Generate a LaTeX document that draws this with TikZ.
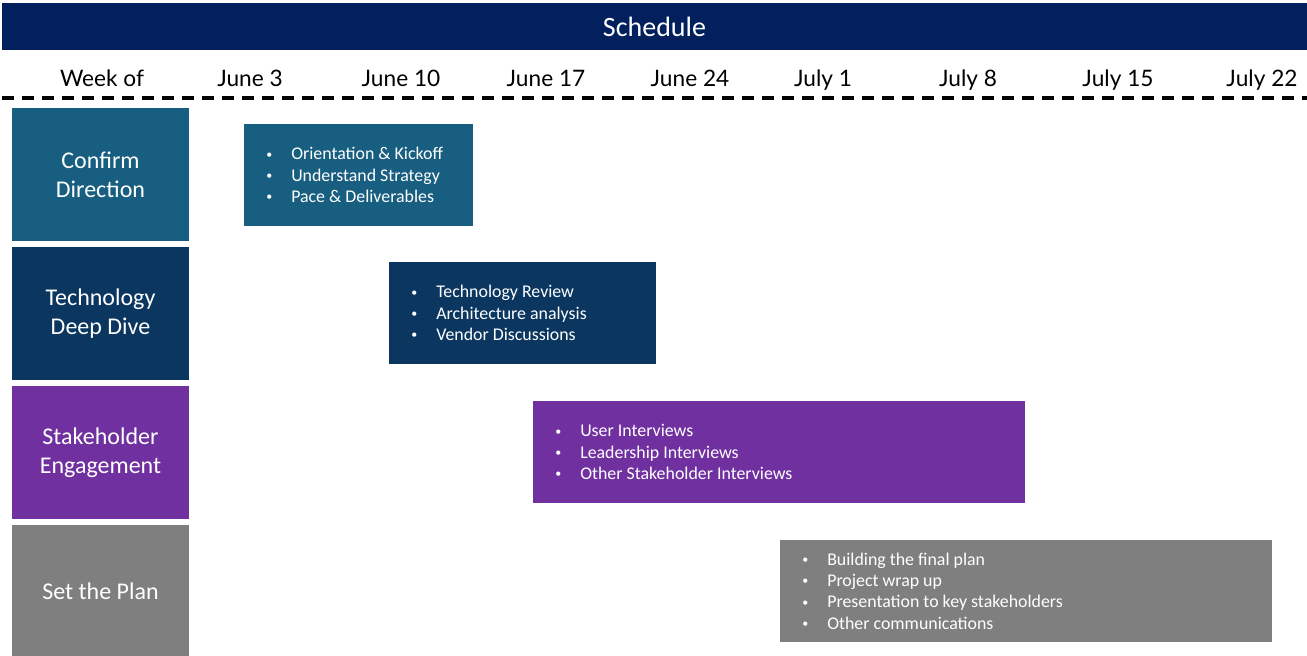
\documentclass[tikz,border=0pt]{standalone}
\usepackage{fontspec}
\setmainfont{Carlito}
\newfontfamily\weekfont{Lato}
\usetikzlibrary{positioning}

\definecolor{headnavy}{RGB}{2,32,94}
\definecolor{phaseteal}{RGB}{24,94,128}
\definecolor{phasenavy}{RGB}{10,54,96}
\definecolor{phasepurple}{RGB}{112,48,160}
\definecolor{phasegray}{RGB}{127,127,127}

% one bullet line inside a task box
\newcommand{\itm}[1]{\makebox[18.75pt][l]{\raisebox{1.2pt}{\fontsize{9}{9}\selectfont\textbullet}}#1}

\begin{document}
\begin{tikzpicture}[
    x=0.75pt, y=-0.75pt,
    node distance=4.5pt,
    lane/.style={rectangle, inner sep=0pt, outer sep=0pt, text=white,
                 minimum width=132.75pt, minimum height=99.75pt, align=center,
                 font=\fontsize{18}{21.75}\selectfont},
    task/.style={rectangle, inner sep=0pt, outer sep=0pt,
                 minimum height=76.5pt},
    items/.style={anchor=west, inner sep=0pt, text=white, align=left,
                  font=\fontsize{13.4}{16}\selectfont},
    week/.style={anchor=base, inner sep=0pt, font=\weekfont\fontsize{17}{19}\selectfont}
]
\useasboundingbox (0,0) rectangle (1307,656);

% --- title bar and week row ---
\node[fill=headnavy, inner sep=0pt, minimum width=978.75pt, minimum height=35.25pt,
      text=white, font=\fontsize{21}{24}\selectfont] (title) at (654.5,26.5) {Schedule};

\foreach \x/\wk [count=\i] in {102/Week of, 250/June 3, 401/June 10, 546/June 17,
    690/June 24, 823/July 1, 968/July 8, 1118/July 15, 1262/July 22}
  \node[week] (wk\i) at (\x,86.5) {\wk};

\coordinate (rule-l) at (2,98);
\coordinate (rule-r) at (1307,98);
\draw[line width=3pt, dash pattern=on 9pt off 6pt] (rule-l) -- (rule-r);

% --- phase lanes ---
\node[lane, fill=phaseteal] (confirm) at (100.5,174.5) {Confirm\\Direction};
\node[lane, fill=phasenavy, below=of confirm] (tech) {Technology\\Deep Dive};
\node[lane, fill=phasepurple, below=of tech] (stake) {Stakeholder\\Engagement};
\node[lane, fill=phasegray, below=of stake] (plan) {Set the Plan};

% --- task boxes ---
\node[task, fill=phaseteal, minimum width=171.75pt] (t1) at (358.5,175) {};
\node[items, right=16.5pt of t1.west] {\itm{Orientation \& Kickoff}\\
  \itm{Understand Strategy}\\\itm{Pace \& Deliverables}};

\node[task, fill=phasenavy, minimum width=200.25pt] (t2) at (522.5,313) {};
\node[items, right=16.5pt of t2.west] {\itm{Technology Review}\\
  \itm{Architecture analysis}\\\itm{Vendor Discussions}};

\node[task, fill=phasepurple, minimum width=369pt] (t3) at (779,452) {};
\node[items, right=16.5pt of t3.west] {\itm{User Interviews}\\
  \itm{Leadership Interviews}\\\itm{Other Stakeholder Interviews}};

\node[task, fill=phasegray, minimum width=369pt] (t4) at (1026,591) {};
\node[items, right=16.5pt of t4.west] {\itm{Building the final plan}\\
  \itm{Project wrap up}\\\itm{Presentation to key stakeholders}\\
  \itm{Other communications}};

\end{tikzpicture}
\end{document}
